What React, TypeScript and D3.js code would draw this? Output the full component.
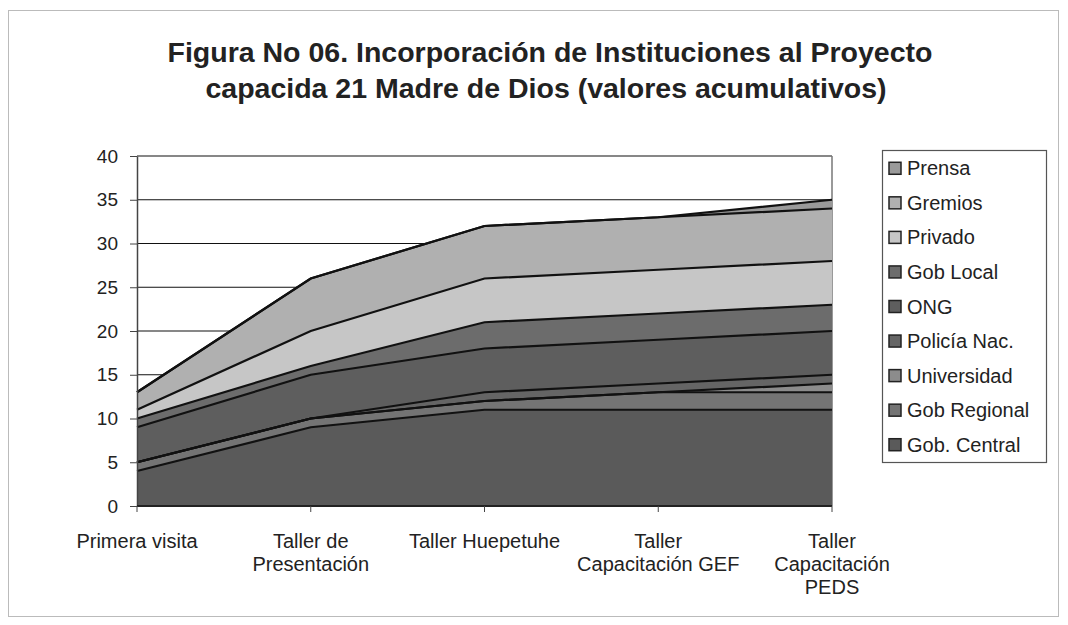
import { useEffect, useRef } from "react";
import * as d3 from "d3";

const categories = [
  ["Primera visita"],
  ["Taller de", "Presentación"],
  ["Taller Huepetuhe"],
  ["Taller", "Capacitación GEF"],
  ["Taller", "Capacitación", "PEDS"],
];

// bottom to top, per-series values (stacked)
const seriesNames = [
  "Gob. Central",
  "Gob Regional",
  "Universidad",
  "Policía Nac.",
  "ONG",
  "Gob Local",
  "Privado",
  "Gremios",
  "Prensa",
];
const gobCentral = [4, 9, 11, 11, 11];
const gobRegional = [1, 1, 1, 2, 2];
const universidad = [0, 0, 0, 0, 1];
const policia = [0, 0, 1, 1, 1];
const ong = [4, 5, 5, 5, 5];
const gobLocal = [1, 1, 3, 3, 3];
const privado = [1, 4, 5, 5, 5];
const gremios = [2, 6, 6, 6, 6];
const prensa = [0, 0, 0, 0, 1];

const seriesColors = [
  "#5a5a5a",
  "#747474",
  "#8c8c8c",
  "#656565",
  "#5e5e5e",
  "#6c6c6c",
  "#c6c6c6",
  "#b0b0b0",
  "#9a9a9a",
];

const yTicks = [0, 5, 10, 15, 20, 25, 30, 35, 40];

export default function App() {
  const svgRef = useRef(null);

  useEffect(() => {
    const svg = d3.select(svgRef.current);
    svg.selectAll("*").remove();

    const font = "'Liberation Sans', Arial, sans-serif";
    const left = 137, right = 832, top = 156, bottom = 506;

    const keys = seriesNames;
    const values = [gobCentral, gobRegional, universidad, policia, ong, gobLocal, privado, gremios, prensa];
    const rows = categories.map((c, i) => {
      const r: any = { idx: i };
      keys.forEach((k, j) => (r[k] = values[j][i]));
      return r;
    });

    const x = d3.scalePoint().domain(categories.map((_, i) => String(i))).range([left, right]).padding(0);
    const y = d3.scaleLinear().domain([0, 40]).range([bottom, top]);

    const stacked = d3.stack().keys(keys)(rows);

    // outer frame
    svg.append("rect")
      .attr("x", 8.5).attr("y", 10.5).attr("width", 1050).attr("height", 606)
      .attr("fill", "#fff").attr("stroke", "#bbb");

    // title
    const title = svg.append("text")
      .attr("x", 551).attr("text-anchor", "middle")
      .attr("font-family", font).attr("font-weight", "bold").attr("font-size", 28.5)
      .attr("fill", "#222");
    title.append("tspan").attr("x", 550).attr("y", 62).text("Figura No 06. Incorporación de Instituciones al Proyecto");
    title.append("tspan").attr("x", 546).attr("y", 98).text("capacida 21 Madre de Dios (valores acumulativos)");

    // gridlines
    svg.append("g").selectAll("line").data(yTicks.filter((t) => t > 0)).join("line")
      .attr("x1", left).attr("x2", right)
      .attr("y1", (d) => y(d)).attr("y2", (d) => y(d))
      .attr("stroke", "#111").attr("stroke-width", 1.2);

    // plot border (right side)
    svg.append("line").attr("x1", right).attr("x2", right).attr("y1", top).attr("y2", bottom)
      .attr("stroke", "#777").attr("stroke-width", 1.5);

    const area = d3.area<any>()
      .x((d) => x(String(d.data.idx)) as number)
      .y0((d) => y(d[0]))
      .y1((d) => y(d[1]));

    svg.append("g").selectAll("path").data(stacked).join("path")
      .attr("d", area)
      .attr("fill", (_, i) => seriesColors[i]);

    const line = d3.line<any>()
      .x((d) => x(String(d.data.idx)) as number)
      .y((d) => y(d[1]));

    svg.append("g").selectAll("path").data(stacked).join("path")
      .attr("d", line)
      .attr("fill", "none")
      .attr("stroke", "#111")
      .attr("stroke-width", 2.2);

    // y axis
    const yAxis = svg.append("g")
      .attr("transform", `translate(${left},0)`)
      .call(d3.axisLeft(y).tickValues(yTicks).tickSize(7).tickSizeOuter(0).tickPadding(12));
    yAxis.select(".domain").attr("stroke", "#444").attr("stroke-width", 1.5);
    yAxis.selectAll(".tick line").attr("stroke", "#444");
    yAxis.selectAll("text")
      .attr("font-family", font).attr("font-size", 19).attr("fill", "#222");

    // x axis
    const xg = svg.append("g").attr("transform", `translate(0,${bottom})`);
    xg.append("line").attr("x1", left).attr("x2", right).attr("stroke", "#222").attr("stroke-width", 2);
    xg.selectAll(".tk").data(categories).join("line")
      .attr("class", "tk")
      .attr("x1", (_, i) => x(String(i)) as number).attr("x2", (_, i) => x(String(i)) as number)
      .attr("y1", 0).attr("y2", 6).attr("stroke", "#444");
    const labels = xg.selectAll(".lbl").data(categories).join("text")
      .attr("class", "lbl")
      .attr("text-anchor", "middle")
      .attr("font-family", font).attr("font-size", 20).attr("fill", "#222");
    labels.each(function (d, i) {
      const t = d3.select(this);
      d.forEach((s, j) => {
        t.append("tspan").attr("x", x(String(i)) as number).attr("y", 42 + j * 23).text(s);
      });
    });

    // legend
    const lg = svg.append("g");
    lg.append("rect").attr("x", 882.5).attr("y", 150.5).attr("width", 164).attr("height", 312)
      .attr("fill", "#fff").attr("stroke", "#555").attr("stroke-width", 1.2);
    const legendOrder = seriesNames.map((n, i) => ({ n, c: seriesColors[i] })).reverse();
    const ly = d3.scaleBand().domain(legendOrder.map((d) => d.n)).range([151, 462]);
    const items = lg.selectAll(".it").data(legendOrder).join("g")
      .attr("class", "it")
      .attr("transform", (d) => `translate(889,${(ly(d.n) as number) + ly.bandwidth() / 2})`);
    items.append("rect").attr("x", 0).attr("y", -6).attr("width", 12).attr("height", 12)
      .attr("fill", (d) => d.c).attr("stroke", "#222").attr("stroke-width", 1.5);
    items.append("text").attr("x", 18).attr("y", 7)
      .attr("font-family", font).attr("font-size", 20).attr("fill", "#222")
      .text((d) => d.n);
  }, []);

  return <svg ref={svgRef} width={1068} height={625} style={{ position: "absolute", left: 0, top: 0 }} />;
}
